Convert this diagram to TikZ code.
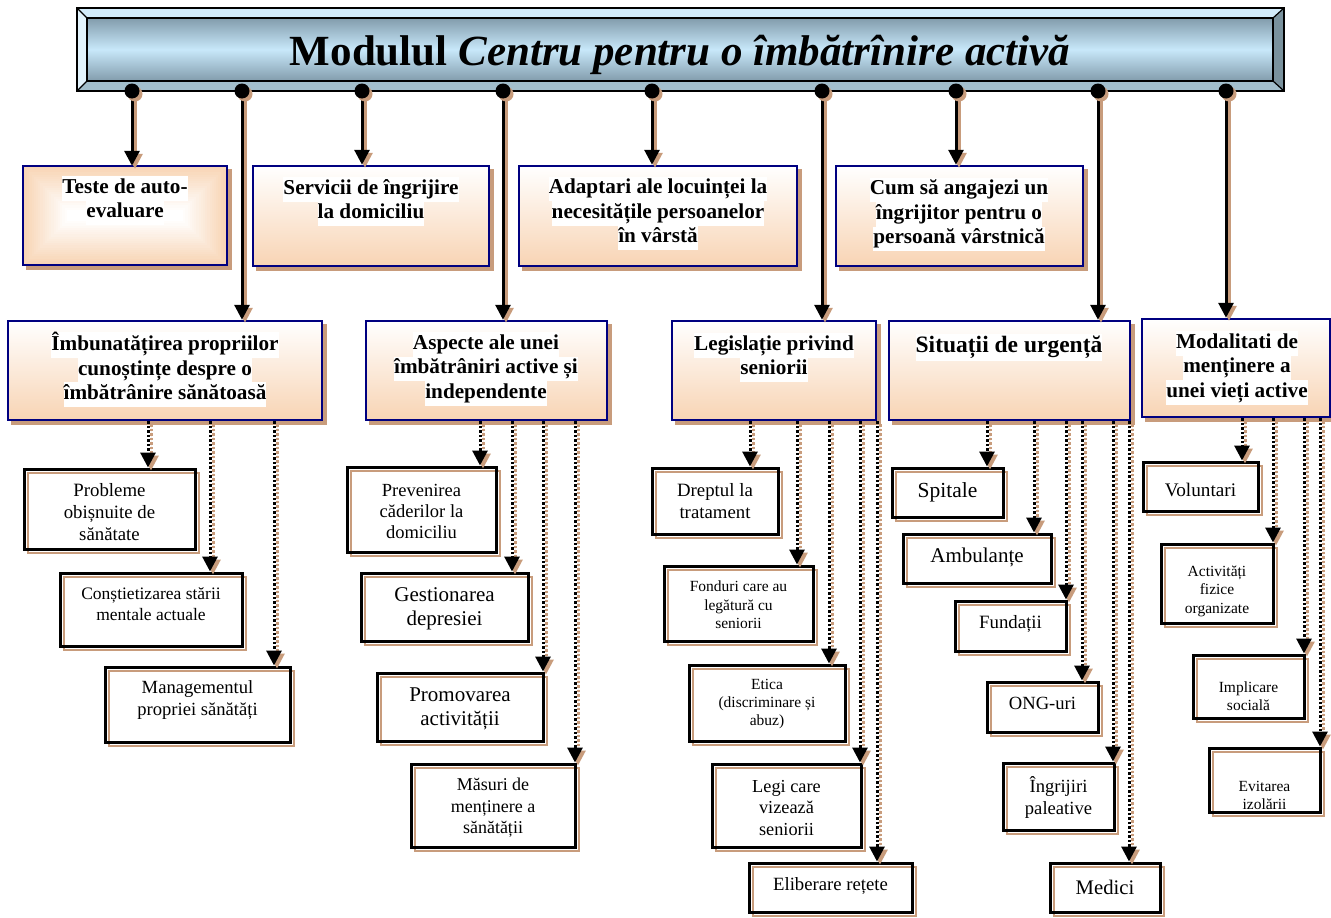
\documentclass[tikz,border=0pt]{standalone}
\usepackage{fontspec}
\setmainfont{Liberation Serif}
\usetikzlibrary{arrows.meta}
\definecolor{navy}{RGB}{0,0,128}
\definecolor{peach}{RGB}{248,212,180}
\definecolor{stan}{RGB}{200,156,124}
\definecolor{barhi}{RGB}{200,232,250}
\definecolor{barlo}{RGB}{130,156,172}
\definecolor{bevtop}{RGB}{210,235,250}
\definecolor{bevleft}{RGB}{226,243,252}
\definecolor{bevright}{RGB}{122,146,158}
\definecolor{bevbot}{RGB}{162,190,204}
\newcommand\hl[1]{{\setlength\fboxsep{0pt}\colorbox{white}{\strut#1}}}
\tikzset{
 lvlbox/.style={draw=navy, line width=2.5pt, top color=white, bottom color=peach, inner sep=0pt,
   preaction={fill=stan, draw=stan, line width=2.5pt, transform canvas={shift={(4pt,-4pt)}}}},
 lvlflat/.style={fill=peach, inner sep=0pt,
   preaction={fill=stan, draw=stan, line width=2.5pt, transform canvas={shift={(4pt,-4pt)}}}},
 leafbox/.style={draw=black, line width=3pt, inner sep=0pt,
   preaction={draw=stan, line width=2.5pt, transform canvas={shift={(4pt,-4pt)}}}},
 btxt/.style={font=\fontsize{21.2}{24.5}\selectfont\bfseries, align=center, inner sep=0pt},
 ltxt/.style={align=center, inner sep=0pt},
 dotn/.style={circle, fill=black, minimum size=15pt, inner sep=0pt,
   preaction={fill=stan, transform canvas={shift={(3pt,-3pt)}}}},
 solidc/.style={line width=3pt, -{Triangle[width=15pt,length=15pt]}},
 dotc/.style={line width=3pt, dash pattern=on 2.5pt off 2pt, -{Triangle[width=15pt,length=15pt]}},
 shad/.style={draw=stan, fill=stan, transform canvas={shift={(3pt,-3pt)}}},
}
\newcommand\lvl[5]{\node[lvlbox, minimum width={#4-#2}, minimum height={#5-#3}] (#1) at ({(#2+#4)/2},{(#3+#5)/2}) {};}
\newcommand\leaf[8]{%
 \node[leafbox, minimum width={#4-#2}, minimum height={#5-#3}] (#1) at ({(#2+#4)/2},{(#3+#5)/2}) {};
 \node[ltxt, font=\fontsize#7\selectfont] (#1t) at ({(#2+#4)/2},#6) {#8};}
\newcommand\sconn[2]{%
 \draw[solidc, shad] (#1) -- (#2.north -| #1);
 \draw[solidc] (#1) -- (#2.north -| #1);}
\newcommand\dconn[3]{%
 \draw[dotc, shad] (#1.south -| #3,0) -- (#2.north -| #3,0);
 \draw[dotc] (#1.south -| #3,0) -- (#2.north -| #3,0);}
\begin{document}
\begin{tikzpicture}[x=1pt,y=-1pt]
\useasboundingbox (0,0) rectangle (1331,918);
\fill[white] (0,0) rectangle (1331,918);
% title bar
\fill[bevtop] (77,8) -- (1284,8) -- (1273,18) -- (87,18) -- cycle;
\fill[bevleft] (77,8) -- (87,18) -- (87,81) -- (77,91) -- cycle;
\fill[bevright] (1284,8) -- (1284,91) -- (1273,81) -- (1273,18) -- cycle;
\fill[bevbot] (77,91) -- (1284,91) -- (1273,81) -- (87,81) -- cycle;
\node[draw=black, line width=1.5pt, top color=barlo, bottom color=barlo, middle color=barhi,
  minimum width=1186, minimum height=63, inner sep=0pt,
  font=\fontsize{43}{50}\selectfont\bfseries] (title) at (680,49.5)
  {\raisebox{-15.5pt}[0pt][0pt]{Modulul \textit{Centru pentru o îmbătrînire activă}}};
\draw[line width=1.5pt] (77,8) rectangle (1284,91);
\draw[line width=1.2pt] (77,8) -- (87,18) (1284,8) -- (1273,18) (77,91) -- (87,81) (1284,91) -- (1273,81);
% level 1 boxes
\node[lvlflat, minimum width=204, minimum height=99] (t1) at (125,215.5) {};
\foreach \i [evaluate=\i as \p using int(\i*5)] in {1,...,20}
  \fill[white!\p!peach] ([shift={(\i*2.2pt,-\i*2.2pt)}]t1.north west) rectangle ([shift={(-\i*2.2pt,\i*2.2pt)}]t1.south east);
\draw[navy, line width=2.5pt] (t1.north west) rectangle (t1.south east);
\node[btxt] (t1t) at (125,200.5) {\hl{Teste de auto-}\\\hl{evaluare}};
\lvl{t2}{253}{166}{489}{266}
\node[btxt] (t2t) at (371,201.5) {\hl{Servicii de îngrijire}\\\hl{la domiciliu}};
\lvl{t3}{519}{166}{797}{266}
\node[btxt] (t3t) at (658,213.5) {\hl{Adaptari ale locuinței la}\\\hl{necesitățile persoanelor}\\\hl{în vârstă}};
\lvl{t4}{836}{166}{1083}{266}
\node[btxt] (t4t) at (959,214.5) {\hl{Cum să angajezi un}\\\hl{îngrijitor pentru o}\\\hl{persoană vârstnică}};
% level 2 boxes
\lvl{l1}{8}{321}{322}{420}
\node[btxt] (l1t) at (165,369.5) {\hl{Îmbunatățirea propriilor}\\\hl{cunoștințe despre o}\\\hl{îmbătrânire sănătoasă}};
\lvl{l2}{366}{321}{607}{420}
\node[btxt] (l2t) at (486,369) {\hl{Aspecte ale unei}\\\hl{îmbătrâniri active și}\\\hl{independente}};
\lvl{l3}{672}{321}{876}{420}
\node[btxt] (l3t) at (774,357.5) {\hl{Legislație privind}\\\hl{seniorii}};
\lvl{l4}{889}{321}{1130}{420}
\node[btxt, font=\fontsize{23.5}{27}\selectfont\bfseries] (l4t) at (1009,347) {\hl{Situații de urgență}};
\lvl{l5}{1142}{319}{1330}{417}
\node[btxt] (l5t) at (1237,368) {\hl{Modalitati de}\\\hl{menținere a}\\\hl{unei vieți active}};
% leaves
\leaf{p1}{24}{469}{195}{549}{512}{{18.8}{22}}{Probleme\\obișnuite de\\sănătate}
\leaf{p2}{60}{573}{242}{646}{604}{{17.5}{21}}{Conștietizarea stării\\mentale actuale}
\leaf{p3}{105}{667}{290}{742}{700}{{18.6}{22}}{Managementul\\propriei sănătăți}
\leaf{q1}{347}{467}{496}{552}{511}{{18.5}{21}}{Prevenirea\\căderilor la\\domiciliu}
\leaf{q2}{361}{573}{528}{641}{609}{{21}{24}}{Gestionarea\\depresiei}
\leaf{q3}{377}{673}{543}{741}{709}{{21}{24}}{Promovarea\\activității}
\leaf{q4}{411}{764}{575}{847}{808}{{18}{21.5}}{Măsuri de\\menținere a\\sănătății}
\leaf{r1}{652}{468}{778}{534}{501}{{18.8}{22}}{Dreptul la\\tratament}
\leaf{r2}{664}{566}{813}{641}{605}{{15.5}{18.5}}{Fonduri care au\\legătură cu\\seniorii}
\leaf{r3}{689}{665}{845}{741}{704}{{15.5}{18}}{Etica\\(discriminare și\\abuz)}
\leaf{r4}{712}{764}{861}{847}{808}{{18.3}{21.5}}{Legi care\\vizează\\seniorii}
\leaf{r5}{749}{863}{912}{912}{886}{{18.7}{21}}{Eliberare rețete}
\leaf{s1}{892}{468}{1003}{517}{492}{{21.5}{24}}{Spitale}
\leaf{s2}{903}{534}{1051}{583}{557}{{21}{24}}{Ambulanțe}
\leaf{s3}{955}{601}{1066}{651}{624}{{18.8}{21}}{Fundații}
\leaf{s4}{987}{682}{1098}{732}{703}{{18.6}{21}}{ONG-uri}
\leaf{s5}{1003}{763}{1114}{830}{797}{{18.6}{22}}{Îngrijiri\\paleative}
\leaf{s6}{1050}{863}{1160}{912}{887}{{20.7}{24}}{Medici}
\leaf{u1}{1143}{462}{1258}{511}{490}{{19.2}{21}}{Voluntari}
\leaf{u2}{1161}{544}{1273}{623}{591}{{15.5}{18.5}}{Activități\\fizice\\organizate}
\leaf{u3}{1193}{655}{1304}{718}{696}{{15.5}{18}}{Implicare\\socială}
\leaf{u4}{1209}{748}{1320}{812}{795}{{15.5}{18}}{Evitarea\\izolării}
% title dots and solid connectors
\coordinate (d1) at (132,91);
\coordinate (d2) at (242,91);
\coordinate (d3) at (362,91);
\coordinate (d4) at (503,91);
\coordinate (d5) at (652,91);
\coordinate (d6) at (822,91);
\coordinate (d7) at (956,91);
\coordinate (d8) at (1098,91);
\coordinate (d9) at (1226,91);
\sconn{d1}{t1}
\sconn{d2}{l1}
\sconn{d3}{t2}
\sconn{d4}{l2}
\sconn{d5}{t3}
\sconn{d6}{l3}
\sconn{d7}{t4}
\sconn{d8}{l4}
\sconn{d9}{l5}
\foreach \k in {1,...,9} \node[dotn] (dot\k) at (d\k) {};
% dotted connectors
\dconn{l1}{p1}{148}
\dconn{l1}{p2}{210}
\dconn{l1}{p3}{274}
\dconn{l2}{q1}{480}
\dconn{l2}{q2}{512}
\dconn{l2}{q3}{543}
\dconn{l2}{q4}{575}
\dconn{l3}{r1}{750}
\dconn{l3}{r2}{797}
\dconn{l3}{r3}{829}
\dconn{l3}{r4}{860}
\dconn{l3}{r5}{877}
\dconn{l4}{s1}{987}
\dconn{l4}{s2}{1034}
\dconn{l4}{s3}{1066}
\dconn{l4}{s4}{1082}
\dconn{l4}{s5}{1113}
\dconn{l4}{s6}{1129}
\dconn{l5}{u1}{1242}
\dconn{l5}{u2}{1273}
\dconn{l5}{u3}{1304}
\dconn{l5}{u4}{1320}
\end{tikzpicture}
\end{document}
